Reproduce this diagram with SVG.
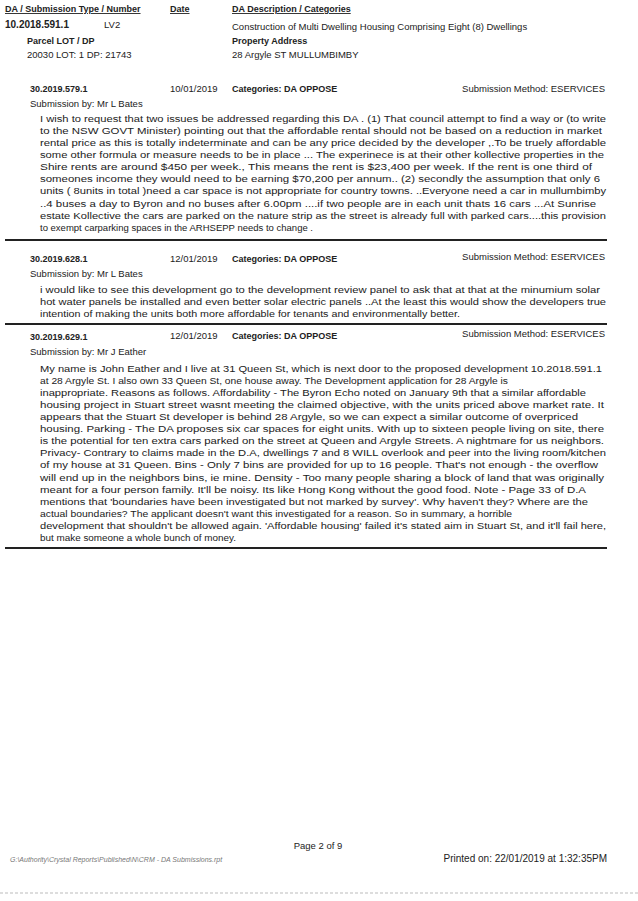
<svg xmlns="http://www.w3.org/2000/svg" width="638" height="901" viewBox="0 0 638 901">
<style>
text{font-family:"Liberation Sans",Arial,sans-serif;fill:#222;font-size:9.5px}
.h{font-size:9px;font-weight:bold;text-decoration:underline}
.b{font-weight:bold}
.p{font-size:9.6px}
.rule{stroke:#222;stroke-width:1.8}
</style>
<rect width="638" height="901" fill="#fff"/>
<g id="header">
<text class="h" x="5" y="12">DA / Submission Type / Number</text>
<text class="h" x="170" y="12">Date</text>
<text class="h" x="232" y="12">DA Description / Categories</text>
<text class="b" x="5" y="28" style="font-size:10px">10.2018.591.1</text>
<text x="104" y="28">LV2</text>
<text x="232" y="30">Construction of Multi Dwelling Housing Comprising Eight (8) Dwellings</text>
<text class="b" x="27" y="44" style="font-size:9px">Parcel  LOT / DP</text>
<text class="b" x="232" y="44" style="font-size:9px">Property Address</text>
<text x="27" y="58">20030  LOT: 1 DP: 21743</text>
<text x="232" y="58">28 Argyle ST MULLUMBIMBY</text>
</g>
<g id="sub1">
<text class="b" x="30" y="92" style="font-size:9px">30.2019.579.1</text>
<text x="170" y="92">10/01/2019</text>
<text class="b" x="232" y="92" style="font-size:9px">Categories: DA  OPPOSE</text>
<text x="605" y="92" text-anchor="end">Submission Method: ESERVICES</text>
<text x="30" y="107">Submission by: Mr L Bates</text>
<text class="p" x="40" y="122" textLength="566" lengthAdjust="spacingAndGlyphs"> I wish to request that two issues be addressed regarding this DA . (1) That council attempt to find a way or (to write</text>
<text class="p" x="40" y="134" textLength="562" lengthAdjust="spacingAndGlyphs">to the NSW GOVT Minister) pointing out that the affordable rental should not be based on a reduction in market</text>
<text class="p" x="40" y="146" textLength="566" lengthAdjust="spacingAndGlyphs">rental price as this is totally indeterminate and can be any price decided by the developer ,.To be truely affordable</text>
<text class="p" x="40" y="158" textLength="564" lengthAdjust="spacingAndGlyphs">some other formula or measure needs to be in place ... The experinece is at their other kollective properties in the</text>
<text class="p" x="40" y="170" textLength="552" lengthAdjust="spacingAndGlyphs">Shire rents are around $450 per week., This means the rent is $23,400 per week. If the rent is one third of</text>
<text class="p" x="40" y="182" textLength="560" lengthAdjust="spacingAndGlyphs">someones income they would need to be earning $70,200 per annum..  (2) secondly the assumption that only 6</text>
<text class="p" x="40" y="194" textLength="566" lengthAdjust="spacingAndGlyphs">units ( 8units in total )need a car space is not appropriate for country towns. ..Everyone need a car in mullumbimby</text>
<text class="p" x="40" y="207" textLength="556" lengthAdjust="spacingAndGlyphs">..4 buses a day to Byron and no buses after 6.00pm ....if two people are in each unit thats 16 cars ...At Sunrise</text>
<text class="p" x="40" y="219" textLength="566" lengthAdjust="spacingAndGlyphs">estate Kollective the cars are parked on the nature strip as the street is already full with parked cars....this provision</text>
<text class="p" x="40" y="231" textLength="273" lengthAdjust="spacingAndGlyphs">to exempt carparking spaces in the ARHSEPP needs to change .</text>
</g>
<g id="sub2">
<text class="b" x="30" y="262" style="font-size:9px">30.2019.628.1</text>
<text x="170" y="262">12/01/2019</text>
<text class="b" x="232" y="262" style="font-size:9px">Categories: DA  OPPOSE</text>
<text x="605" y="260" text-anchor="end">Submission Method: ESERVICES</text>
<text x="30" y="277">Submission by: Mr L Bates</text>
<text class="p" x="40" y="293" textLength="560" lengthAdjust="spacingAndGlyphs"> i would like to see this development go to the development review panel  to ask that at that at the minumium solar</text>
<text class="p" x="40" y="305" textLength="566" lengthAdjust="spacingAndGlyphs">hot water panels be installed and even better solar electric panels ..At the least this would show the developers true</text>
<text class="p" x="40" y="317" textLength="420" lengthAdjust="spacingAndGlyphs">intention of making the units both more affordable for tenants and environmentally better.</text>
</g>
<g id="sub3">
<text class="b" x="30" y="340" style="font-size:9px">30.2019.629.1</text>
<text x="170" y="339">12/01/2019</text>
<text class="b" x="232" y="339" style="font-size:9px">Categories: DA  OPPOSE</text>
<text x="605" y="337" text-anchor="end">Submission Method: ESERVICES</text>
<text x="30" y="355">Submission by: Mr J Eather</text>
<text class="p" x="40" y="372" textLength="562" lengthAdjust="spacingAndGlyphs"> My name is John Eather and I live at 31 Queen St, which is next door to the proposed development 10.2018.591.1</text>
<text class="p" x="40" y="384" textLength="468" lengthAdjust="spacingAndGlyphs">at 28 Argyle St. I also own 33 Queen St, one house away.  The Development application for 28 Argyle is</text>
<text class="p" x="40" y="396" textLength="546" lengthAdjust="spacingAndGlyphs">inappropriate. Reasons as follows.  Affordability - The Byron Echo noted on January 9th that a similar affordable</text>
<text class="p" x="40" y="408" textLength="564" lengthAdjust="spacingAndGlyphs">housing project in Stuart street wasnt meeting the claimed objective, with the units priced above market rate. It</text>
<text class="p" x="40" y="420" textLength="538" lengthAdjust="spacingAndGlyphs">appears that the Stuart St developer is behind 28 Argyle, so we can expect a similar outcome of overpriced</text>
<text class="p" x="40" y="432" textLength="564" lengthAdjust="spacingAndGlyphs">housing.    Parking - The DA proposes six car spaces for eight units. With up to sixteen people living on site, there</text>
<text class="p" x="40" y="444" textLength="564" lengthAdjust="spacingAndGlyphs">is the potential for ten extra cars parked on the street at Queen and Argyle Streets. A nightmare for us neighbors.</text>
<text class="p" x="40" y="456" textLength="566" lengthAdjust="spacingAndGlyphs">Privacy- Contrary to claims made in the D.A, dwellings 7 and 8 WILL overlook and peer into the living room/kitchen</text>
<text class="p" x="40" y="468" textLength="558" lengthAdjust="spacingAndGlyphs">of my house at 31 Queen.    Bins - Only 7 bins are provided for up to 16 people. That's not enough - the overflow</text>
<text class="p" x="40" y="481" textLength="564" lengthAdjust="spacingAndGlyphs">will end up in the neighbors bins, ie mine.     Density - Too many people sharing a block of land that was originally</text>
<text class="p" x="40" y="493" textLength="546" lengthAdjust="spacingAndGlyphs">meant for a four person family. It'll be noisy. Its like Hong Kong without the good food.    Note - Page 33 of D.A</text>
<text class="p" x="40" y="505" textLength="548" lengthAdjust="spacingAndGlyphs">mentions that 'boundaries have been investigated but not marked by survey'. Why haven't they? Where are the</text>
<text class="p" x="40" y="517" textLength="472" lengthAdjust="spacingAndGlyphs">actual boundaries? The applicant doesn't want this investigated for a reason.  So in summary, a horrible</text>
<text class="p" x="40" y="529" textLength="566" lengthAdjust="spacingAndGlyphs">development that shouldn't be allowed again.  'Affordable housing' failed it's stated aim in Stuart St, and it'll fail here,</text>
<text class="p" x="40" y="541" textLength="196" lengthAdjust="spacingAndGlyphs">but make someone a whole bunch of money.</text>
</g>
<g id="rules">
<line class="rule" x1="5" y1="240" x2="607" y2="240"/>
<line class="rule" x1="5" y1="324" x2="607" y2="324"/>
<line class="rule" x1="5" y1="548" x2="607" y2="548"/>
<line x1="0" y1="893" x2="638" y2="893" stroke="#bbb" stroke-width="1" stroke-dasharray="3 2"/>
</g>
<g id="footer">
<text x="318" y="849" text-anchor="middle">Page 2 of 9</text>
<text x="10" y="862" style="font-size:7px;font-style:italic;fill:#777">G:\Authority\Crystal Reports\Published\N\CRM - DA Submissions.rpt</text>
<text x="607" y="862" text-anchor="end" style="font-size:10px">Printed on: 22/01/2019 at  1:32:35PM</text>
</g>
</svg>
